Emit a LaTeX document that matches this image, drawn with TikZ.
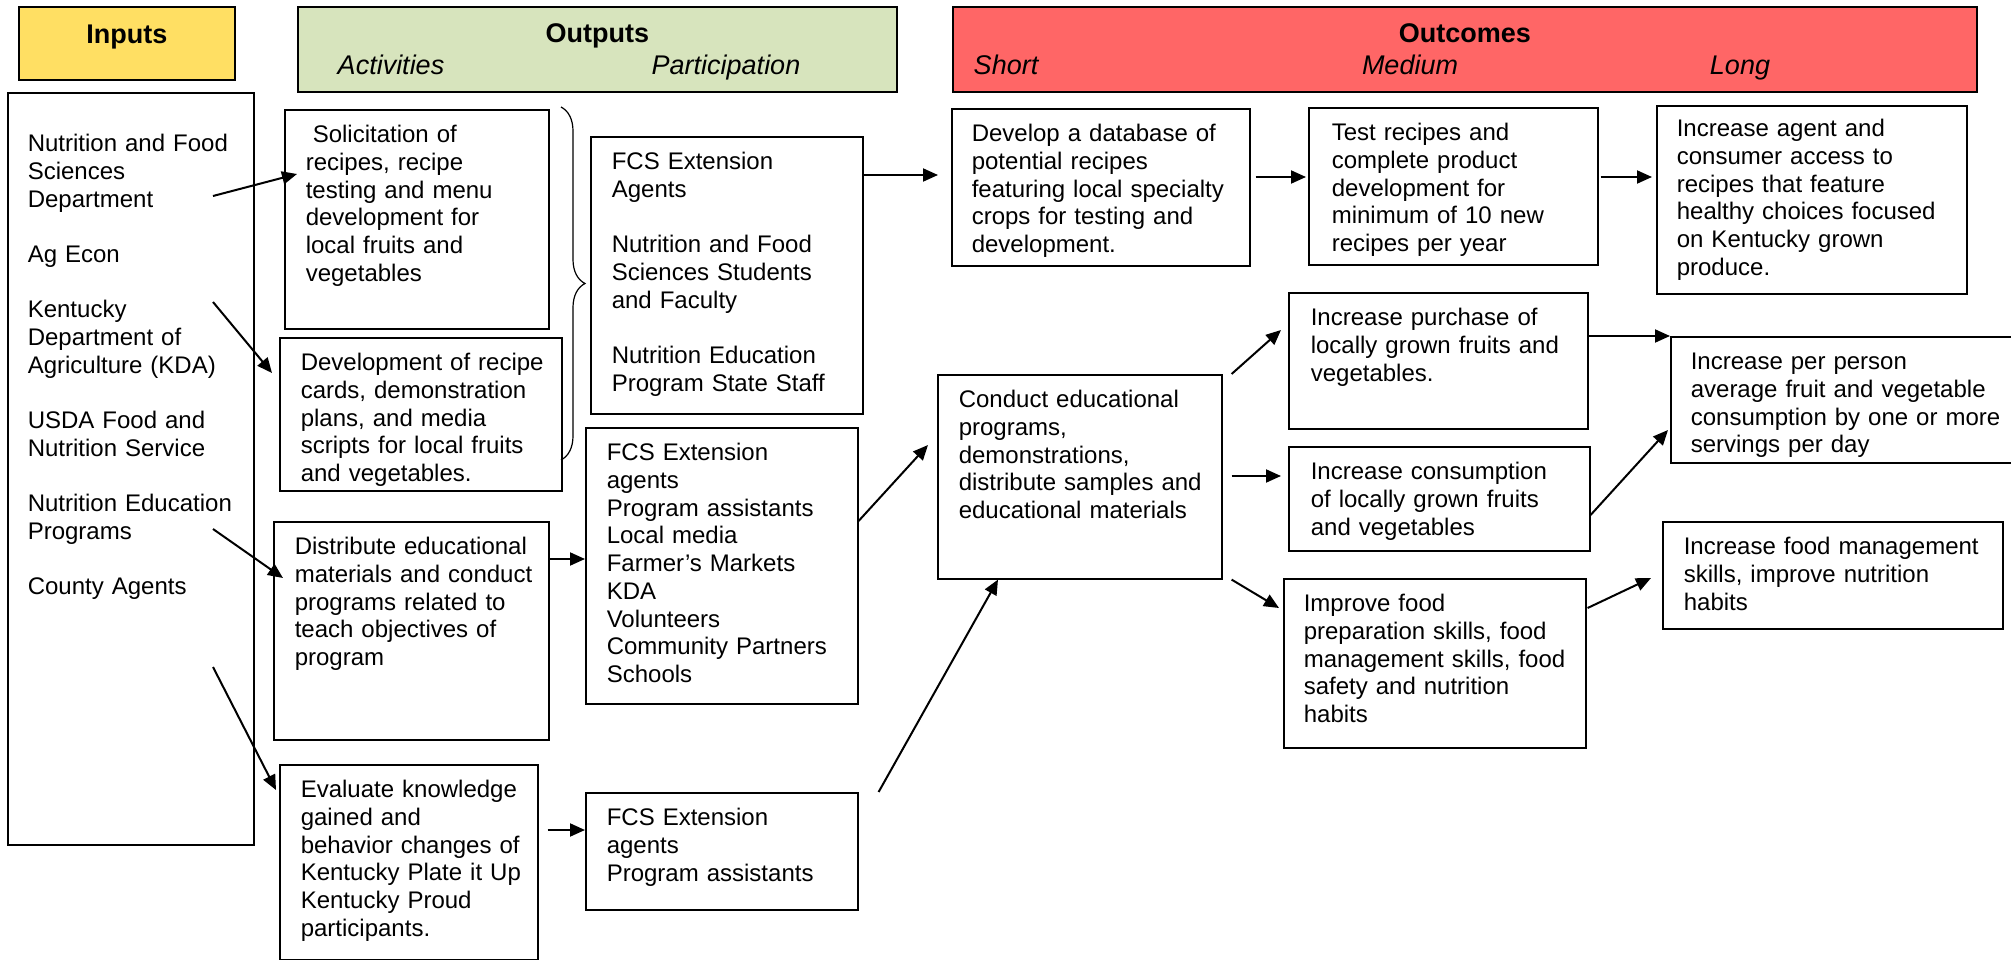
\documentclass[tikz,border=0pt]{standalone}
\usepackage{fontspec}
\setmainfont{Liberation Sans}
\usepackage{tikz}
\usetikzlibrary{arrows.meta,shapes,positioning,calc,decorations.pathreplacing}
\usepackage{xcolor}
\definecolor{inyellow}{RGB}{255,223,99}
\definecolor{outgreen}{RGB}{215,228,189}
\definecolor{ocred}{RGB}{255,102,102}
\tikzset{pad/.style={execute at begin node={\raggedright\leftskip=#1}}}
\tikzstyle{arrow} = [line width=2pt,->,>={Stealth[length=15pt,width=13pt,inset=0pt]}]
\tikzstyle{box} = [rectangle, draw, line width=1.6pt, anchor=north west, inner sep=0pt, text height=33pt, pad=21pt, font=\fontsize{24}{27.7}\selectfont]
\tikzstyle{head} = [rectangle, draw, line width=1.8pt, anchor=north west, inner sep=0pt, align=center, font=\fontsize{27}{32}\selectfont\bfseries]
\tikzstyle{sub} = [anchor=base, font=\fontsize{27}{32}\selectfont\itshape]
\tikzstyle{brace} = [decorate, decoration={brace, amplitude=24pt}, line width=1.2pt]

\begin{document}
\begin{tikzpicture}[x=1pt, y=-1pt]
    \useasboundingbox (0,0) rectangle (2011,960);
    \clip (0,0) rectangle (2011,960);

    % Headers
    \node[head, fill=inyellow, text width=216pt, text height=37pt, text depth=36pt] (hin) at (18,6) {Inputs};
    \node[head, fill=outgreen, text width=599pt, text height=35.5pt, text depth=49.5pt] (hout) at (297,6) {Outputs};
    \node[head, fill=ocred, text width=1024pt, text height=35.5pt, text depth=49.5pt] (hoc) at (952,6) {Outcomes};
    \node[sub] (hact) at (391,75) {Activities};
    \node[sub] (hpar) at (726,75) {Participation};
    \node[sub] (hsh) at (1006,75) {Short};
    \node[sub] (hmed) at (1410,75) {Medium};
    \node[sub] (hlong) at (1740,75) {Long};

    % Inputs
    \node[box, pad=20pt, text width=246pt, text height=59pt, text depth=693pt] (inp) at (7,92) {Nutrition and Food\\Sciences\\Department\\[27.7pt]Ag Econ\\[27.7pt]Kentucky\\Department of\\Agriculture (KDA)\\[27.7pt]USDA Food and\\Nutrition Service\\[27.7pt]Nutrition Education\\Programs\\[27.7pt]County Agents};

    % Activities
    \node[box, text width=264pt, text depth=186pt] (act1) at (284,109) {\hspace*{7pt}Solicitation of\\recipes, recipe\\testing and menu\\development for\\local fruits and\\vegetables};
    \node[box, text width=282pt, text depth=120pt] (act2) at (279,337) {Development of recipe\\cards, demonstration\\plans, and media\\scripts for local fruits\\and vegetables.};
    \node[box, text width=275pt, text depth=185pt] (act3) at (273,521) {Distribute educational\\materials and conduct\\programs related to\\teach objectives of\\program};
    \node[box, text width=258pt, text depth=162pt] (act4) at (279,764) {Evaluate knowledge\\gained and\\behavior changes of\\Kentucky Plate it Up\\Kentucky Proud\\participants.};

    % Participation
    \node[box, text width=272pt, text depth=244pt] (par1) at (590,136) {FCS Extension\\Agents\\[27.7pt]Nutrition and Food\\Sciences Students\\and Faculty\\[27.7pt]Nutrition Education\\Program State Staff};
    \node[box, text width=272pt, text depth=243pt] (par2) at (585,427) {FCS Extension\\agents\\Program assistants\\Local media\\Farmer's Markets\\KDA\\Volunteers\\Community Partners\\Schools};
    \node[box, text width=272pt, text depth=84pt] (par3) at (585,792) {FCS Extension\\agents\\Program assistants};

    % Brace over the first two activities
    \coordinate (bt) at (561,107);
    \coordinate (bb) at (561,460);
    \draw[brace] (bt) -- (bb);

    % Short term
    \node[box, pad=20pt, text width=298pt, text depth=124pt] (sh1) at (951,108) {Develop a database of\\potential recipes\\featuring local specialty\\crops for testing and\\development.};
    \node[box, text width=284pt, text depth=171pt] (sh2) at (937,374) {Conduct educational\\programs,\\demonstrations,\\distribute samples and\\educational materials};

    % Medium term
    \node[box, pad=23pt, text width=289pt, text depth=124pt] (med1) at (1308,107) {Test recipes and\\complete product\\development for\\minimum of 10 new\\recipes per year};
    \node[box, pad=22pt, text width=299pt, text depth=103pt] (med2) at (1288,292) {Increase purchase of\\locally grown fruits and\\vegetables.};
    \node[box, pad=22pt, text width=301pt, text depth=71pt] (med3) at (1288,446) {Increase consumption\\of locally grown fruits\\and vegetables};
    \node[box, pad=20pt, text width=302pt, text depth=136pt] (med4) at (1283,578) {Improve food\\preparation skills, food\\management skills, food\\safety and nutrition\\habits};

    % Long term
    \node[box, pad=20pt, text width=310pt, text height=31pt, text depth=157pt] (lng1) at (1656,105) {Increase agent and\\consumer access to\\recipes that feature\\healthy choices focused\\on Kentucky grown\\produce.};
    \node[box, pad=20pt, text width=360pt, text depth=93pt] (lng2) at (1670,336) {Increase per person\\average fruit and vegetable\\consumption by one or more\\servings per day};
    \node[box, text width=340pt, text depth=74pt] (lng3) at (1662,521) {Increase food management\\skills, improve nutrition\\habits};

    % Inputs to activities
    \coordinate (i1) at (213,196);
    \coordinate (i2) at (213,302);
    \coordinate (i3) at (213,529);
    \coordinate (i4) at (213,667);
    \draw[arrow] (i1) -- ([xshift=13pt,yshift=-65pt]act1.north west);
    \draw[arrow] (i2) -- ([xshift=-7pt,yshift=-36pt]act2.north west);
    \draw[arrow] (i3) -- ([xshift=10pt,yshift=-57pt]act3.north west);
    \draw[arrow] (i4) -- ([xshift=-3pt,yshift=-26pt]act4.north west);

    % Activities to participation
    \coordinate (a3e) at ([yshift=-38pt]act3.north east);
    \coordinate (a4e) at ([xshift=9pt,yshift=-66pt]act4.north east);
    \draw[arrow] (a3e) -- (a3e -| par2.west);
    \draw[arrow] (a4e) -- (a4e -| par3.west);

    % Participation to short term
    \coordinate (p1e) at ([yshift=-39pt]par1.north east);
    \draw[arrow, shorten >=13pt] (p1e) -- (p1e -| sh1.west);
    \draw[arrow] ([yshift=-94pt]par2.north east) -- ([xshift=-9pt,yshift=-71pt]sh2.north west);
    \draw[arrow] ([xshift=20pt]par3.north east) -- ([xshift=61pt]sh2.south west);

    % Short to medium
    \coordinate (s1e) at ([xshift=5pt,yshift=-69pt]sh1.north east);
    \coordinate (s2e) at ([xshift=9pt,yshift=-102pt]sh2.north east);
    \draw[arrow, shorten >=2pt] (s1e) -- (s1e -| med1.west);
    \draw[arrow] ([xshift=9pt]sh2.north east) -- ([xshift=-7pt,yshift=-38pt]med2.north west);
    \draw[arrow, shorten >=7pt] (s2e) -- (s2e -| med3.west);
    \draw[arrow] ([xshift=9pt]sh2.south east) -- ([xshift=-4pt,yshift=-30pt]med4.north west);

    % Medium to long
    \coordinate (m1e) at ([xshift=2pt,yshift=-70pt]med1.north east);
    \coordinate (m2e) at ([yshift=-44pt]med2.north east);
    \draw[arrow, shorten >=4pt] (m1e) -- (m1e -| lng1.west);
    \draw[arrow] (m2e) -- (m2e -| lng2.west);
    \draw[arrow] ([yshift=-69pt]med3.north east) -- ([xshift=-2pt,yshift=-94pt]lng2.north west);
    \draw[arrow] ([xshift=1pt,yshift=-30pt]med4.north east) -- ([xshift=-11pt,yshift=-57pt]lng3.north west);
\end{tikzpicture}
\end{document}
